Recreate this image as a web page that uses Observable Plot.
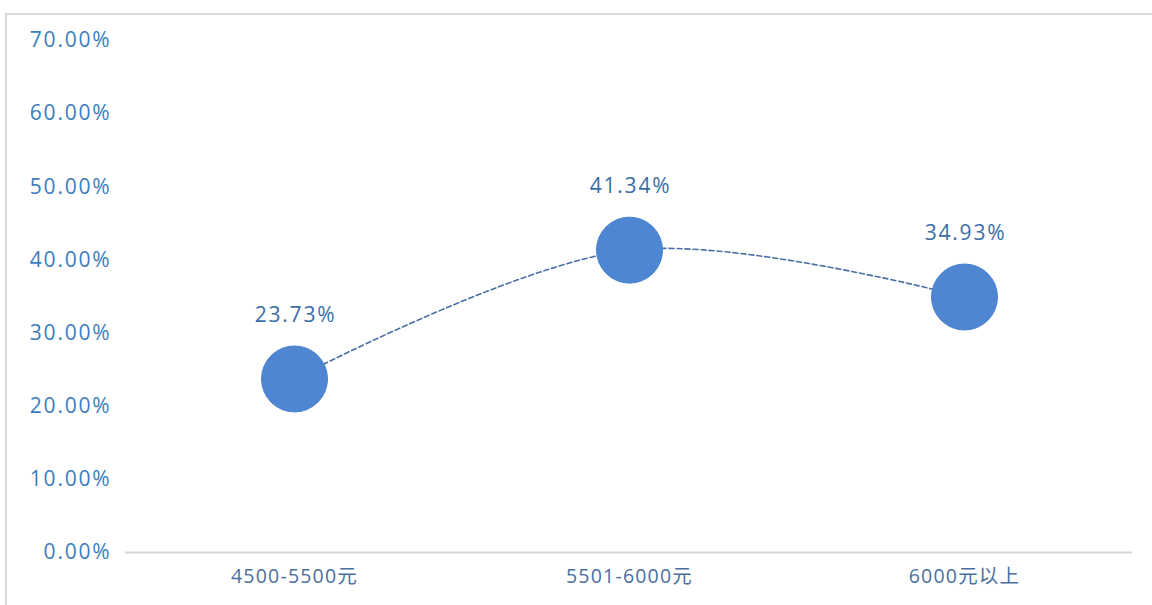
<!DOCTYPE html>
<html>
<head>
<meta charset="utf-8">
<script src="https://cdn.jsdelivr.net/npm/d3@7"></script>
<script src="https://cdn.jsdelivr.net/npm/@observablehq/plot@0.6"></script>
<style>
  html, body { margin: 0; padding: 0; background: #fff; overflow: hidden; }
  #wrap { position: relative; width: 1152px; height: 605px; }
  #frame { position: absolute; left: 5px; top: 13px; width: 1200px; height: 700px;
           border-top: 2px solid #dadada; border-left: 2px solid #dadada; box-sizing: border-box; }
  #chart { position: absolute; left: 0; top: 0; }
  .xax text { letter-spacing: 1.2px; }
  .yax text { letter-spacing: 1.8px; }
  .lbl text { letter-spacing: 1.8px; }
</style>
</head>
<body>
<div id="wrap"><div id="frame"></div><div id="chart"></div></div>
<script>
const categories = ["4500-5500元", "5501-6000元", "6000元以上"];
const values = [23.73, 41.34, 34.93];
const yTicks = [0, 10, 20, 30, 40, 50, 60, 70];

const data = categories.map((c, i) => ({cat: c, v: values[i]}));
const font = "'Open Sans', 'Noto Sans CJK SC', sans-serif";

const chart = Plot.plot({
  width: 1152,
  height: 605,
  marginLeft: 125,
  marginRight: 20,
  marginTop: 40,
  marginBottom: 53,
  style: {fontFamily: font, background: "transparent"},
  x: {type: "point", domain: categories, padding: 0.5, label: null},
  y: {domain: [0, 70], label: null},
  marks: [
    Plot.axisY({ticks: yTicks, tickSize: 0, tickPadding: 14, tickFormat: d => d.toFixed(2) + "%",
      fontSize: 21, fill: "#3d7cbd", className: "yax"}),
    Plot.axisX({tickSize: 0, tickPadding: 17, fontSize: 19.5, fill: "#4a6fa0", className: "xax"}),
    Plot.ruleY([0], {stroke: "#d6d6d6", strokeWidth: 2}),
    Plot.line(data, {x: "cat", y: "v", curve: "catmull-rom", stroke: "#4a6fa5",
      strokeWidth: 1.6, strokeDasharray: "5,3"}),
    Plot.dot(data, {x: "cat", y: "v", r: 33, fill: "#4f86d1", stroke: "#4a82cf", strokeWidth: 1}),
    Plot.text(data, {x: "cat", y: "v", text: d => d.v.toFixed(2) + "%", dy: -64, dx: 1,
      fontSize: 21, fill: "#3a6ea8", className: "lbl"})
  ]
});
document.getElementById("chart").appendChild(chart);
</script>
</body>
</html>
